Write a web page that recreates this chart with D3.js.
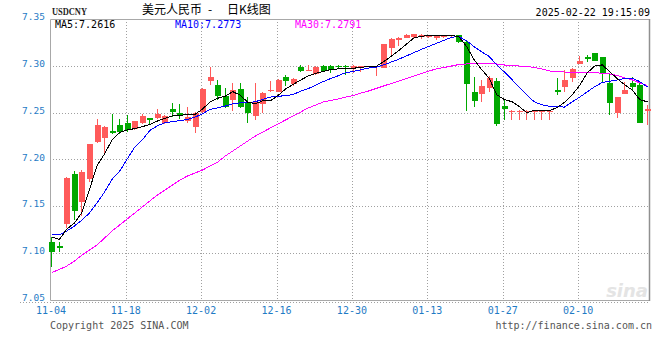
<!DOCTYPE html>
<html lang="zh">
<head>
<meta charset="UTF-8">
<title>USDCNY 日K线图</title>
<script src="https://d3js.org/d3.v7.min.js"></script>
<style>
  body { margin: 0; background: #fff; }
  svg { display: block; background: #fff; }
  .mono { font-family: "DejaVu Sans Mono", monospace; }
</style>
</head>
<body>
<svg id="chart" width="660" height="360"></svg>
<script>
// trading days 2024-11-04 .. 2025-02-21
const dates = [
  "11-04","11-05","11-06","11-07","11-08","11-11","11-12","11-13","11-14","11-15",
  "11-18","11-19","11-20","11-21","11-22","11-25","11-26","11-27","11-28","11-29",
  "12-02","12-03","12-04","12-05","12-06","12-09","12-10","12-11","12-12","12-13",
  "12-16","12-17","12-18","12-19","12-20","12-23","12-24","12-25","12-26","12-27",
  "12-30","12-31","01-01","01-02","01-03","01-06","01-07","01-08","01-09","01-10",
  "01-13","01-14","01-15","01-16","01-17","01-20","01-21","01-22","01-23","01-24",
  "01-27","01-28","01-29","01-30","01-31","02-03","02-04","02-05","02-06","02-07",
  "02-10","02-11","02-12","02-13","02-14","02-17","02-18","02-19","02-20","02-21"
];

const open = [
  7.1119,7.1075,7.1308,7.1845,7.1549,7.1789,7.2190,7.2233,7.2304,7.2368,
  7.2393,7.2322,7.2386,7.2443,7.2446,7.2393,7.2539,7.2496,7.2411,7.2350,
  7.2510,7.2841,7.2792,7.2678,7.2635,7.2749,7.2617,7.2468,7.2593,7.2735,
  7.2724,7.2884,7.2806,7.2984,7.2945,7.2910,7.2998,7.2998,7.3002,7.3000,
  7.2980,7.2980,7.2990,7.2985,7.2980,7.3187,7.3276,7.3300,7.3311,7.3304,
  7.3311,7.3300,7.3310,7.3315,7.3329,7.3258,7.2724,7.2699,7.2760,7.2838,
  7.2571,7.2515,7.2515,7.2513,7.2515,7.2510,7.2515,7.2742,7.2778,7.2873,
  7.3023,7.3098,7.3134,7.3091,7.2814,7.2493,7.2696,7.2820,7.2795,7.2521
];
const high = [
  7.1176,7.1120,7.1817,7.1877,7.1888,7.2165,7.2429,7.2358,7.2486,7.2429,
  7.2475,7.2414,7.2483,7.2446,7.2536,7.2475,7.2600,7.2593,7.2557,7.2507,
  7.2760,7.2984,7.2849,7.2760,7.2814,7.2814,7.2671,7.2814,7.2724,7.2841,
  7.2856,7.2902,7.2867,7.3009,7.3009,7.3002,7.3009,7.3009,7.3009,7.3009,
  7.3005,7.3000,7.2998,7.3000,7.3233,7.3300,7.3308,7.3336,7.3340,7.3336,
  7.3329,7.3329,7.3329,7.3329,7.3333,7.3276,7.2884,7.2849,7.2895,7.2873,
  7.2635,7.2525,7.2525,7.2525,7.2525,7.2527,7.2525,7.2867,7.2956,7.2980,
  7.3105,7.3116,7.3134,7.3091,7.2920,7.2671,7.2831,7.2877,7.2838,7.2582
];
const low = [
  7.0856,7.1016,7.1266,7.1354,7.1397,7.1763,7.2173,7.2059,7.2272,7.2269,
  7.2297,7.2315,7.2376,7.2368,7.2436,7.2383,7.2457,7.2432,7.2386,7.2280,
  7.2493,7.2795,7.2635,7.2547,7.2518,7.2547,7.2393,7.2422,7.2500,7.2724,
  7.2717,7.2785,7.2785,7.2937,7.2945,7.2902,7.2937,7.2927,7.2973,7.2902,
  7.2927,7.2930,7.2988,7.2891,7.2975,7.3108,7.3215,7.3297,7.3300,7.3290,
  7.3300,7.3280,7.3300,7.3310,7.3244,7.2518,7.2564,7.2617,7.2724,7.2358,
  7.2422,7.2422,7.2422,7.2422,7.2422,7.2422,7.2422,7.2689,7.2724,7.2831,
  7.3023,7.3044,7.3055,7.2814,7.2475,7.2440,7.2696,7.2742,7.2386,7.2368
];
const close = [
  7.1016,7.1060,7.1806,7.1453,7.1867,7.2165,7.2368,7.2350,7.2283,7.2294,
  7.2315,7.2411,7.2461,7.2422,7.2489,7.2464,7.2510,7.2478,7.2457,7.2500,
  7.2753,7.2881,7.2681,7.2564,7.2742,7.2564,7.2500,7.2617,7.2713,7.2742,
  7.2849,7.2841,7.2859,7.2948,7.2959,7.2991,7.2948,7.2956,7.2984,7.2984,
  7.3000,7.2995,7.2995,7.2998,7.3233,7.3286,7.3300,7.3329,7.3336,7.3329,
  7.3322,7.3325,7.3322,7.3325,7.3258,7.2803,7.2628,7.2785,7.2867,7.2376,
  7.2542,7.2521,7.2521,7.2521,7.2521,7.2521,7.2521,7.2724,7.2849,7.2963,
  7.3052,7.3070,7.3055,7.2910,7.2600,7.2671,7.2742,7.2778,7.2393,7.2536
];

const ma5 = [
  7.1173,7.1146,7.1258,7.1322,7.1435,7.1680,7.1935,7.2060,7.2210,7.2290,
  7.2315,7.2330,7.2350,7.2375,7.2410,7.2440,7.2465,7.2473,7.2478,7.2482,
  7.2540,7.2614,7.2654,7.2676,7.2724,7.2686,7.2610,7.2597,7.2627,7.2627,
  7.2684,7.2752,7.2801,7.2848,7.2891,7.2920,7.2941,7.2960,7.2968,7.2973,
  7.2974,7.2984,7.2992,7.2994,7.3044,7.3101,7.3162,7.3229,7.3297,7.3316,
  7.3323,7.3328,7.3327,7.3325,7.3310,7.3207,7.3067,7.2960,7.2868,7.2692,
  7.2640,7.2618,7.2565,7.2500,7.2525,7.2521,7.2521,7.2555,7.2610,7.2690,
  7.2790,7.2925,7.2998,7.3010,7.2937,7.2861,7.2796,7.2740,7.2637,7.2616
];
const ma10 = [
  7.1205,7.1194,7.1237,7.1290,7.1354,7.1429,7.1536,7.1653,7.1790,7.1875,
  7.2005,7.2132,7.2210,7.2310,7.2360,7.2392,7.2405,7.2414,7.2428,7.2452,
  7.2490,7.2535,7.2552,7.2570,7.2595,7.2605,7.2607,7.2617,7.2643,7.2666,
  7.2676,7.2680,7.2694,7.2730,7.2756,7.2794,7.2832,7.2865,7.2895,7.2928,
  7.2940,7.2958,7.2976,7.2985,7.3010,7.3040,7.3070,7.3105,7.3140,7.3175,
  7.3208,7.3240,7.3272,7.3305,7.3312,7.3268,7.3205,7.3150,7.3100,7.3010,
  7.2935,7.2855,7.2770,7.2688,7.2615,7.2583,7.2568,7.2562,7.2560,7.2615,
  7.2665,7.2722,7.2778,7.2822,7.2835,7.2850,7.2866,7.2869,7.2830,7.2773
];
const ma30 = [
  7.0794,7.0826,7.0863,7.0916,7.0980,7.1034,7.1087,7.1162,7.1237,7.1301,
  7.1365,7.1429,7.1493,7.1557,7.1621,7.1674,7.1728,7.1781,7.1824,7.1856,
  7.1888,7.1931,7.1973,7.2037,7.2091,7.2144,7.2198,7.2251,7.2294,7.2337,
  7.2379,7.2422,7.2464,7.2507,7.2550,7.2582,7.2614,7.2630,7.2646,7.2667,
  7.2683,7.2710,7.2731,7.2758,7.2785,7.2811,7.2838,7.2865,7.2891,7.2918,
  7.2945,7.2966,7.2982,7.2998,7.3014,7.3020,7.3025,7.3025,7.3025,7.3020,
  7.3009,7.3004,7.2998,7.2993,7.2982,7.2966,7.2945,7.2940,7.2934,7.2931,
  7.2929,7.2928,7.2927,7.2920,7.2913,7.2897,7.2870,7.2849,7.2817,7.2791
];

const yTicks = [7.35, 7.30, 7.25, 7.20, 7.15, 7.10, 7.05];
const xTicks = ["11-04","11-18","12-02","12-16","12-30","01-13","01-27","02-10"];

const svg = d3.select("#chart");
const plotL = 50, plotR = 650, plotT = 19, plotB = 300;
const blue = "#1f7bc5", grid = "#a0a0a0";
const up = "#ff5a5a", down = "#00a800";

const x = d3.scalePoint().domain(dates).range([52.3, 648]);
const y = d3.scaleLinear().domain([7.05, 7.35]).range([plotB, plotT]);
const px = v => Math.round(v) + 0.5;

// grid
svg.append("g").selectAll("line")
  .data(yTicks.slice(1, -1))
  .join("line")
  .attr("x1", plotL).attr("x2", plotR)
  .attr("y1", d => px(y(d))).attr("y2", d => px(y(d)))
  .attr("stroke", grid).attr("stroke-dasharray", "1,2");

svg.append("g").selectAll("line")
  .data(xTicks.slice(1))
  .join("line")
  .attr("x1", d => px(x(d) - 2)).attr("x2", d => px(x(d) - 2))
  .attr("y1", plotT).attr("y2", plotB)
  .attr("stroke", grid).attr("stroke-dasharray", "1,2");

// frame
svg.append("line").attr("x1", 20).attr("x2", plotR)
  .attr("y1", plotB + 2.5).attr("y2", plotB + 2.5)
  .attr("stroke", grid).attr("stroke-dasharray", "1,2");
svg.append("path")
  .attr("d", `M${plotL + 0.5},${plotT + 0.5}H${plotR - 0.5}V${plotB + 0.5}H${plotL + 0.5}Z`)
  .attr("fill", "none").attr("stroke", "#a8a8a8");
svg.append("line").attr("x1", plotR - 0.5).attr("x2", plotR - 0.5)
  .attr("y1", plotT).attr("y2", plotB + 1).attr("stroke", "#909090").attr("stroke-width", 1.5);

// watermark
svg.append("text").attr("x", 648).attr("y", 297)
  .attr("text-anchor", "end")
  .style("font", "italic bold 18px 'DejaVu Sans', sans-serif")
  .attr("fill", "#e4e4e4").text("sina");

// y labels
svg.append("g").selectAll("text")
  .data(yTicks)
  .join("text")
  .attr("class", "mono")
  .attr("x", 45).attr("y", d => y(d) + 1)
  .attr("text-anchor", "end")
  .attr("font-size", 9.5)
  .attr("fill", blue)
  .text(d => d3.format(".2f")(d));

// x labels
svg.append("g").selectAll("text")
  .data(xTicks)
  .join("text")
  .attr("class", "mono")
  .attr("x", (d, i) => i === 0 ? plotL + 1 : x(d) - 2)
  .attr("y", 314)
  .attr("text-anchor", "middle")
  .attr("font-size", 10)
  .attr("fill", blue)
  .text(d => d);

// candles
const idx = d3.range(dates.length);
const candles = svg.append("g").selectAll("g")
  .data(idx)
  .join("g")
  .attr("fill", i => close[i] >= open[i] ? up : down);

candles.append("rect")
  .attr("x", i => Math.round(x(dates[i])) - 1)
  .attr("width", 1)
  .attr("y", i => Math.round(y(high[i])))
  .attr("height", i => Math.max(1, Math.round(y(low[i])) - Math.round(y(high[i]))));

candles.append("rect")
  .attr("x", i => Math.round(x(dates[i])) - 3)
  .attr("width", 6)
  .attr("y", i => Math.round(y(Math.max(open[i], close[i]))))
  .attr("height", i => Math.max(1, Math.round(y(Math.min(open[i], close[i]))) - Math.round(y(Math.max(open[i], close[i])))));

// moving averages
const line = arr => d3.line().x((d, i) => x(dates[i]) - 0.5).y(d => y(d))(arr);
[[ma30, "#ff00ff"], [ma10, "#0000ff"], [ma5, "#000000"]].forEach(([arr, c]) => {
  svg.append("path").attr("d", line(arr))
    .attr("fill", "none").attr("stroke", c).attr("stroke-width", 1)
    .attr("shape-rendering", "crispEdges");
});

// header
svg.append("text").attr("x", 52).attr("y", 15)
  .attr("textLength", 35).attr("lengthAdjust", "spacingAndGlyphs")
  .style("font", "bold 11px 'Liberation Serif', serif")
  .attr("fill", "#222").text("USDCNY");

const title = svg.append("text").attr("y", 14)
  .style("font", "12px 'Noto Sans CJK SC', sans-serif").attr("fill", "#000");
title.append("tspan").attr("x", 142).text("美元人民币");
title.append("tspan").attr("x", 208).text("-");
title.append("tspan").attr("x", 227).text("日K线图");

svg.append("text").attr("class", "mono")
  .attr("x", 650).attr("y", 16).attr("text-anchor", "end")
  .attr("font-size", 10).attr("fill", "#000")
  .text("2025-02-22 19:15:09");

const legend = [
  ["MA5:" + ma5[ma5.length - 1].toFixed(4), "#000000", 55],
  ["MA10:" + ma10[ma10.length - 1].toFixed(4), "#0000ff", 175],
  ["MA30:" + ma30[ma30.length - 1].toFixed(4), "#ff00ff", 295]
];
svg.append("g").selectAll("text")
  .data(legend)
  .join("text")
  .attr("class", "mono")
  .attr("x", d => d[2]).attr("y", 27.5)
  .attr("font-size", 10)
  .attr("fill", d => d[1])
  .text(d => d[0]);

// footer
svg.append("text").attr("class", "mono")
  .attr("x", 50).attr("y", 329).attr("font-size", 10).attr("fill", "#555")
  .text("Copyright 2025 SINA.COM");
svg.append("text").attr("class", "mono")
  .attr("x", 652).attr("y", 329).attr("text-anchor", "end")
  .attr("font-size", 10).attr("fill", "#555")
  .text("http://finance.sina.com.cn");
</script>
</body>
</html>
